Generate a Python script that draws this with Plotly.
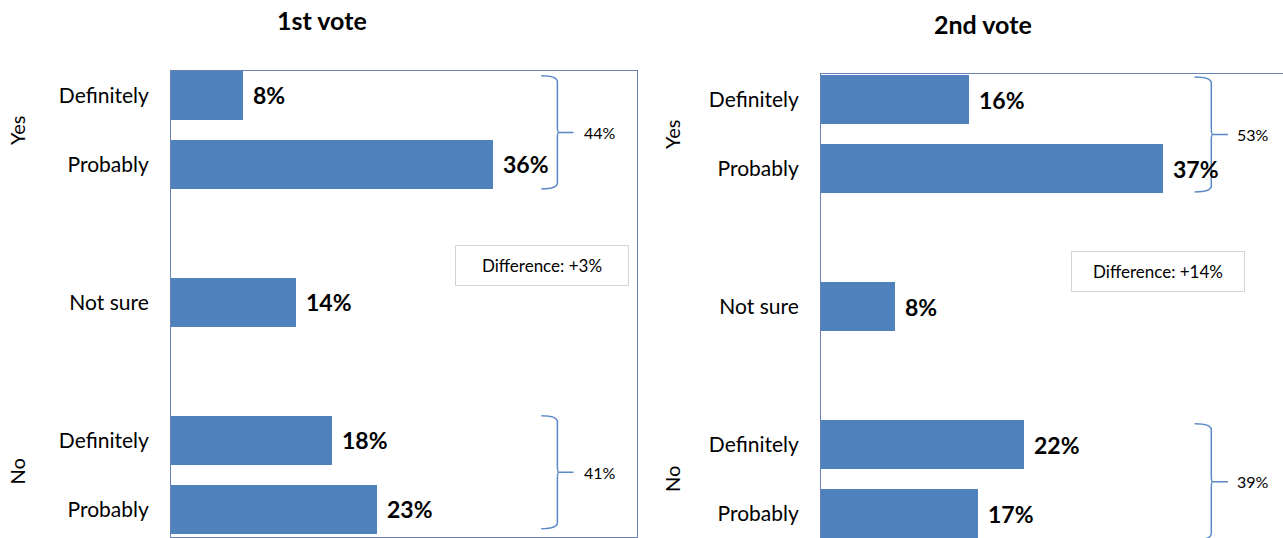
import plotly.graph_objects as go

# ---- data -------------------------------------------------------------
tick_labels = ["Definitely", "Probably", "Not sure", "Definitely", "Probably"]
slots = [0, 1, 3, 5, 6]          # vertical slot of each bar (gaps at 2 and 4)

first_vote = [8, 36, 14, 18, 23]
second_vote = [16, 37, 8, 22, 17]

titles = ["1st vote", "2nd vote"]
groups = ["Yes", "No"]

# ---- style ------------------------------------------------------------
W, H = 1283, 538
BAR = "#4f81bd"
FRAME = "#6683b3"
BRACE = "#5a88c6"
FONT = "Lato"


def px_x(p):
    return p / W


def px_y(p):
    return 1 - p / H


fig = go.Figure()

panels = [
    dict(vals=first_vote, xa="x", ya="y"),
    dict(vals=second_vote, xa="x2", ya="y2"),
]

for p in panels:
    fig.add_trace(go.Bar(
        x=p["vals"], y=slots, orientation="h", width=0.71,
        marker=dict(color=BAR, line=dict(width=0)),
        xaxis=p["xa"], yaxis=p["ya"], hoverinfo="skip", showlegend=False,
    ))
    # bold value labels just right of each bar end
    for v, s in zip(p["vals"], slots):
        fig.add_annotation(
            x=v, y=s, xref=p["xa"], yref=p["ya"], text=f"<b>{v}%</b>",
            showarrow=False, xanchor="left", yanchor="middle", xshift=8,
            font=dict(family=FONT, size=23, color="black"),
        )

axis_common = dict(showgrid=False, zeroline=False, fixedrange=True)
tick_font = dict(family=FONT, size=21, color="black")

fig.update_layout(
    width=W, height=H,
    margin=dict(l=0, r=0, t=0, b=0),
    paper_bgcolor="white", plot_bgcolor="white",
    bargap=0,
    xaxis=dict(domain=[px_x(171), px_x(637)], range=[0, 52.1],
               showticklabels=False, showline=True, linecolor=FRAME,
               linewidth=1, mirror=True, **axis_common),
    yaxis=dict(domain=[px_y(537), px_y(71)], range=[6.399, -0.355],
               tickmode="array", tickvals=slots, ticktext=tick_labels,
               ticks="", ticklabelstandoff=17, tickfont=tick_font,
               showline=True, linecolor=FRAME, linewidth=1, mirror=True,
               **axis_common),
    xaxis2=dict(domain=[px_x(821), 1.0], range=[0, 49.95], side="top",
                anchor="y2", showticklabels=False, showline=True,
                linecolor=FRAME, linewidth=1, **axis_common),
    yaxis2=dict(domain=[0, px_y(74)], range=[6.355, -0.37], anchor="x2",
                tickmode="array", tickvals=slots, ticktext=tick_labels,
                ticks="", ticklabelstandoff=17, tickfont=tick_font,
                showline=True, linecolor=FRAME, linewidth=1,
                **axis_common),
)

# ---- titles and group labels -------------------------------------------
title_pos = [(322, 20), (983, 24)]
for t, (cx, cy) in zip(titles, title_pos):
    fig.add_annotation(x=px_x(cx), y=px_y(cy), xref="paper", yref="paper",
                       text=f"<b>{t}</b>", showarrow=False,
                       xanchor="center", yanchor="middle",
                       font=dict(family=FONT, size=25, color="black"))

group_pos = [(17, "y", [0.5, 5.45]), (672, "y2", [0.5, 5.5])]
for gx, ya, ys in group_pos:
    for g, gy in zip(groups, ys):
        fig.add_annotation(x=px_x(gx), y=gy, xref="paper", yref=ya, text=g,
                           showarrow=False, textangle=-90,
                           xanchor="center", yanchor="middle",
                           font=dict(family=FONT, size=20, color="black"))

# ---- curly braces summing each group -------------------------------------


def brace_path(xh, xv, xt, top, bot, rx, ry):
    mid = (top + bot) / 2
    return (f"M {xh},{top} Q {xv},{top} {xv},{top + ry} "
            f"L {xv},{mid - ry} Q {xv},{mid} {xv + rx},{mid} "
            f"L {xt},{mid} M {xv + rx},{mid} "
            f"Q {xv},{mid} {xv},{mid + ry} "
            f"L {xv},{bot - ry} Q {xv},{bot} {xh},{bot}")


brace_specs = [
    # values, xaxis, yaxis, hook x, spine x, tip x, label x, spans
    (first_vote, "x", "y", 41.4, 43.2, 45.0, 45.9,
     [(-0.285, 1.355), (4.64, 6.28)]),
    (second_vote, "x2", "y2", 40.4, 42.2, 44.0, 44.8,
     [(-0.326, 1.34), (4.70, 6.38)]),
]

diff_boxes = [((455 + 628) / 2, 265.5), ((1069 + 1247) / 2, 271.5)]

for (vals, xa, ya, xh, xv, xt, xl, spans), (bx, by) in zip(brace_specs,
                                                            diff_boxes):
    yes_total = vals[0] + vals[1]
    no_total = vals[3] + vals[4]
    for (top, bot), total in zip(spans, [yes_total, no_total]):
        fig.add_shape(type="path", xref=xa, yref=ya,
                      path=brace_path(xh, xv, xt, top, bot, 0.15, 0.09),
                      line=dict(color=BRACE, width=1.5))
        fig.add_annotation(x=xl, y=(top + bot) / 2, xref=xa, yref=ya,
                           text=f"{total}%", showarrow=False,
                           xanchor="left", yanchor="middle",
                           font=dict(family=FONT, size=16, color="black"))
    diff = yes_total - no_total
    fig.add_annotation(x=px_x(bx), y=px_y(by), xref="paper", yref="paper",
                       text=f"Difference: {diff:+d}%", showarrow=False,
                       xanchor="center", yanchor="middle",
                       width=172, height=39, borderpad=0, borderwidth=1,
                       bordercolor="#d4d4d4", bgcolor="white",
                       font=dict(family=FONT, size=17, color="black"))

fig.write_html("out.html")
